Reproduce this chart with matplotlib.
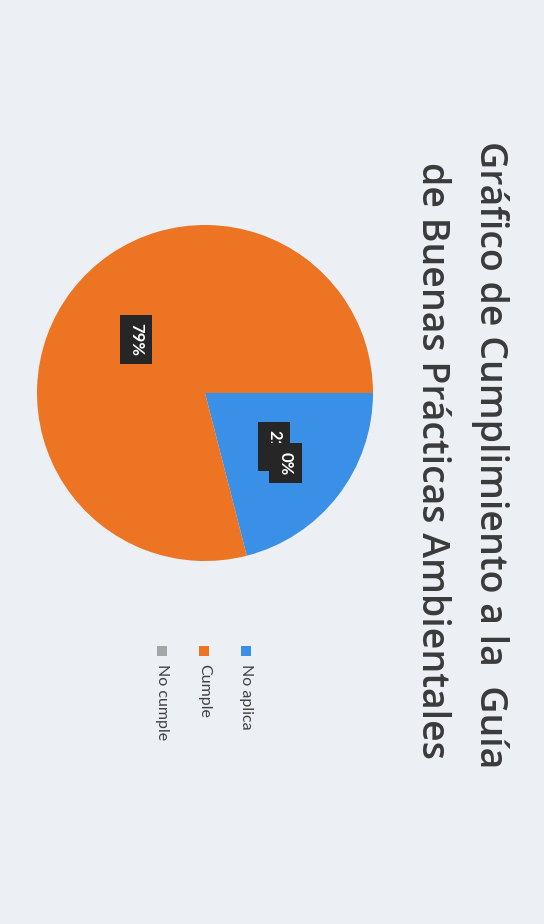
import numpy as np
import matplotlib.pyplot as plt

categories = ["No aplica", "Cumple", "No cumple"]
values = [21, 79, 0]
colors = ["#3a8fe6", "#ec7422", "#a5a5a5"]
title_lines = ["Gráfico de Cumplimiento a la  Guía", "de Buenas Prácticas Ambientales"]

plt.rcParams["font.family"] = ["Lato", "DejaVu Sans"]

W, H = 544, 924
fig = plt.figure(figsize=(W / 100, H / 100), dpi=100, facecolor="#eceff4")

# pie (the scanned page is rotated 90 deg clockwise)
cx, cy, r = 205, 393, 168
ax = fig.add_axes([(cx - r) / W, (H - cy - r) / H, 2 * r / W, 2 * r / H])
ax.set_facecolor("none")
wedges, _ = ax.pie(values, colors=colors, startangle=0, counterclock=False,
                   radius=1, wedgeprops=dict(linewidth=0))
ax.set_xlim(-1, 1)
ax.set_ylim(-1, 1)
ax.set_aspect("equal")
ax.axis("off")

box = dict(boxstyle="square,pad=0.5", facecolor="#262626", edgecolor="none")
total = sum(values)
pos = []
for w, v in zip(wedges, values):
    mid = np.deg2rad((w.theta1 + w.theta2) / 2)
    pos.append((0.52 * np.cos(mid), 0.52 * np.sin(mid)))
for i, v in enumerate(values):
    x, y = pos[i]
    if v == 0:
        # zero slice label pushed onto the previous one, as in the original
        x, y = pos[0][0] + 0.07, pos[0][1] - 0.1
    ax.text(x, y, f"{round(100 * v / total)}%", rotation=-90, color="white",
            fontsize=12, fontweight="bold", ha="center", va="center", bbox=box)

# title
tfont = dict(rotation=-90, fontsize=27, color="#3a3a3a", ha="center",
             va="center", fontweight="semibold", family=["Open Sans", "DejaVu Sans"])
fig.text(490 / W, 1 - 455 / H, title_lines[0], **tfont)
fig.text(432 / W, 1 - 460 / H, title_lines[1], **tfont)

# legend
for i, (name, c) in enumerate(zip(categories, colors)):
    x = (246 - 42 * i) / W
    fig.patches.append(plt.Rectangle((x - 5 / W, 1 - 656 / H), 10 / W, 10 / H,
                                     transform=fig.transFigure, facecolor=c,
                                     edgecolor="none"))
    fig.text(x, 1 - 664 / H, name, rotation=-90, fontsize=11.5, color="#404040",
             ha="center", va="top")

fig.savefig("out.png", dpi=100, facecolor=fig.get_facecolor())
